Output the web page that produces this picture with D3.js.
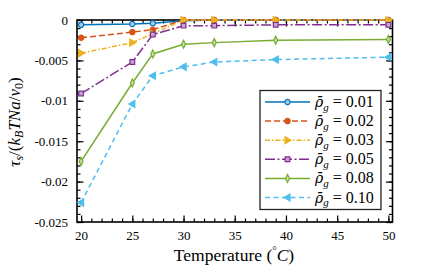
<!DOCTYPE html>
<html>
<head>
<meta charset="utf-8">
<script src="https://cdn.jsdelivr.net/npm/d3@7"></script>
<style>
  body { margin: 0; background: #fff; }
  svg text { font-family: "Liberation Serif", "Times New Roman", serif; fill: #000; }
</style>
</head>
<body>
<div id="chart"></div>
<script>
// data
const temps = [20, 25, 27, 30, 33, 39, 50];
const rho001 = [-0.0006, -0.0005, -0.0004, -0.0001, 0, 0, 0];
const rho002 = [-0.0022, -0.0015, -0.0012, 0, 0, 0, 0];
const rho003 = [-0.0041, -0.0028, -0.0017, 0, 0, 0, 0];
const rho005 = [-0.0091, -0.0052, -0.0018, -0.0007, -0.0007, -0.0006, -0.0006];
const rho008 = [-0.0175, -0.0078, -0.0042, -0.0030, -0.0028, -0.0025, -0.0024];
const rho010 = [-0.0226, -0.0104, -0.0069, -0.0058, -0.0052, -0.0049, -0.0046];
const seriesNames = ["0.01", "0.02", "0.03", "0.05", "0.08", "0.10"];
const xTicks = [20, 25, 30, 35, 40, 45, 50];
const yTicks = [0, -0.005, -0.01, -0.015, -0.02, -0.025];
const yTickLabels = ["0", "-0.005", "-0.01", "-0.015", "-0.02", "-0.025"];

const width = 436, height = 272;
const pLeft = 77, pRight = 392.5, pTop = 20, pBottom = 222;

const styles = [
  { color: "#0072BD", dash: null, marker: "circle", fill: "#9fc9e8" },
  { color: "#D95319", dash: "6,3", marker: "circle", fill: "#D95319" },
  { color: "#EDB120", dash: "5,2,1.5,2", marker: "triRight", fill: "#EDB120" },
  { color: "#7E2F8E", dash: "10,2.5,2,2.5", marker: "square", fill: "#c9a3d1" },
  { color: "#77AC30", dash: null, marker: "diamond", fill: "#c6e0a4" },
  { color: "#4DBEEE", dash: "5,3.5", marker: "triLeft", fill: "#4DBEEE" }
];
const allSeries = [rho001, rho002, rho003, rho005, rho008, rho010];

const svg = d3.select("#chart").append("svg")
  .attr("width", width)
  .attr("height", height);

const x = d3.scaleLinear().domain([19.6, 50.4]).range([pLeft, pRight]);
const y = d3.scaleLinear().domain([-0.025, 0]).range([pBottom, pTop]);

function markerPath(type) {
  if (type === "circle") return d3.symbol(d3.symbolCircle, 22)();
  if (type === "square") return d3.symbol(d3.symbolSquare, 22)();
  if (type === "diamond") return "M0,-4L2,0L0,4L-2,0Z";
  if (type === "triRight") return "M3.5,0L-2.5,-3.5L-2.5,3.5Z";
  if (type === "triLeft") return "M-3.5,0L2.5,-3.5L2.5,3.5Z";
}

// axes with inward ticks on all four sides
const xMinor = d3.range(20, 51, 1);
const yMinor = d3.range(0, 26).map(i => -i * 0.001);

function addAxis(axisFn, scale, ticks, minor, transform, labels, fmt) {
  svg.append("g").attr("transform", transform)
    .call(axisFn(scale).tickValues(minor).tickSize(-3.5).tickFormat(""))
    .call(g => g.select(".domain").remove())
    .selectAll("line").attr("stroke", "#000").attr("stroke-width", 1.2);
  const g = svg.append("g").attr("transform", transform)
    .call(axisFn(scale).tickValues(ticks).tickSize(-6.5).tickPadding(9)
      .tickFormat(labels ? fmt : ""));
  g.select(".domain").remove();
  g.selectAll("line").attr("stroke", "#000").attr("stroke-width", 1.2);
  g.selectAll("text").attr("font-size", 13).attr("font-family", "Liberation Serif");
  return g;
}

addAxis(d3.axisBottom, x, xTicks, xMinor, `translate(0,${pBottom})`, true, d => d);
addAxis(d3.axisTop, x, xTicks, xMinor, `translate(0,${pTop})`, false);
addAxis(d3.axisLeft, y, yTicks, yMinor, `translate(${pLeft},0)`, true, (d, i) => yTickLabels[i]);
addAxis(d3.axisRight, y, yTicks, yMinor, `translate(${pRight},0)`, false);

svg.append("rect")
  .attr("x", pLeft).attr("y", pTop)
  .attr("width", pRight - pLeft).attr("height", pBottom - pTop)
  .attr("fill", "none").attr("stroke", "#000").attr("stroke-width", 1.6);

// series
const line = d3.line().x((d, i) => x(temps[i])).y(d => y(d));

allSeries.forEach((vals, k) => {
  const s = styles[k];
  svg.append("path")
    .datum(vals)
    .attr("d", line)
    .attr("fill", "none")
    .attr("stroke", s.color)
    .attr("stroke-width", 1.5)
    .attr("stroke-dasharray", s.dash);
  svg.append("g").selectAll("path")
    .data(vals)
    .join("path")
    .attr("d", markerPath(s.marker))
    .attr("transform", (d, i) => `translate(${x(temps[i])},${y(d)})`)
    .attr("fill", s.fill)
    .attr("stroke", s.color)
    .attr("stroke-width", 1.2);
});

// legend
const lg = svg.append("g");
lg.append("rect")
  .attr("x", 260).attr("y", 90.5)
  .attr("width", 121).attr("height", 119)
  .attr("fill", "#fff").attr("stroke", "#222").attr("stroke-width", 1.3);

seriesNames.forEach((name, k) => {
  const s = styles[k];
  const ry = 102 + k * 19.1;
  lg.append("line")
    .attr("x1", 265).attr("x2", 310).attr("y1", ry).attr("y2", ry)
    .attr("stroke", s.color).attr("stroke-width", 1.5)
    .attr("stroke-dasharray", s.dash);
  lg.append("path")
    .attr("d", markerPath(s.marker))
    .attr("transform", `translate(287.5,${ry})`)
    .attr("fill", s.fill).attr("stroke", s.color).attr("stroke-width", 1.2);
  const t = lg.append("text")
    .attr("x", 315).attr("y", ry + 5)
    .attr("font-size", 16);
  t.append("tspan").attr("font-style", "italic")
    .style("font-family", "DejaVu Serif").attr("font-size", 14).text("\u03C1\u0304");
  t.append("tspan").attr("font-style", "italic").attr("font-size", 11)
    .attr("dy", 3.5).text("g");
  t.append("tspan").attr("dy", -3.5).text(" = " + name);
});

// axis titles
const xt = svg.append("text")
  .attr("x", 234).attr("y", 261)
  .attr("text-anchor", "middle")
  .attr("font-size", 17.5);
xt.append("tspan").text("Temperature (");
xt.append("tspan").attr("font-size", 11).attr("dy", -7).text("\u00B0");
xt.append("tspan").attr("font-style", "italic").attr("dy", 7).text("C");
xt.append("tspan").text(")");

const yt = svg.append("text")
  .attr("transform", "translate(20,122) rotate(-90)")
  .attr("text-anchor", "middle")
  .attr("font-size", 17);
yt.append("tspan").attr("font-style", "italic").text("\u03C4");
yt.append("tspan").attr("font-style", "italic").attr("font-size", 12).attr("dy", 3).text("s");
yt.append("tspan").attr("dy", -3).text("/(");
yt.append("tspan").attr("font-style", "italic").text("k");
yt.append("tspan").attr("font-style", "italic").attr("font-size", 12).attr("dy", 3).text("B");
yt.append("tspan").attr("font-style", "italic").attr("dy", -3).text("TNa");
yt.append("tspan").text("/");
yt.append("tspan").attr("font-style", "italic").text("v");
yt.append("tspan").attr("font-size", 12).attr("dy", 3).text("0");
yt.append("tspan").attr("dy", -3).text(")");
</script>
</body>
</html>
